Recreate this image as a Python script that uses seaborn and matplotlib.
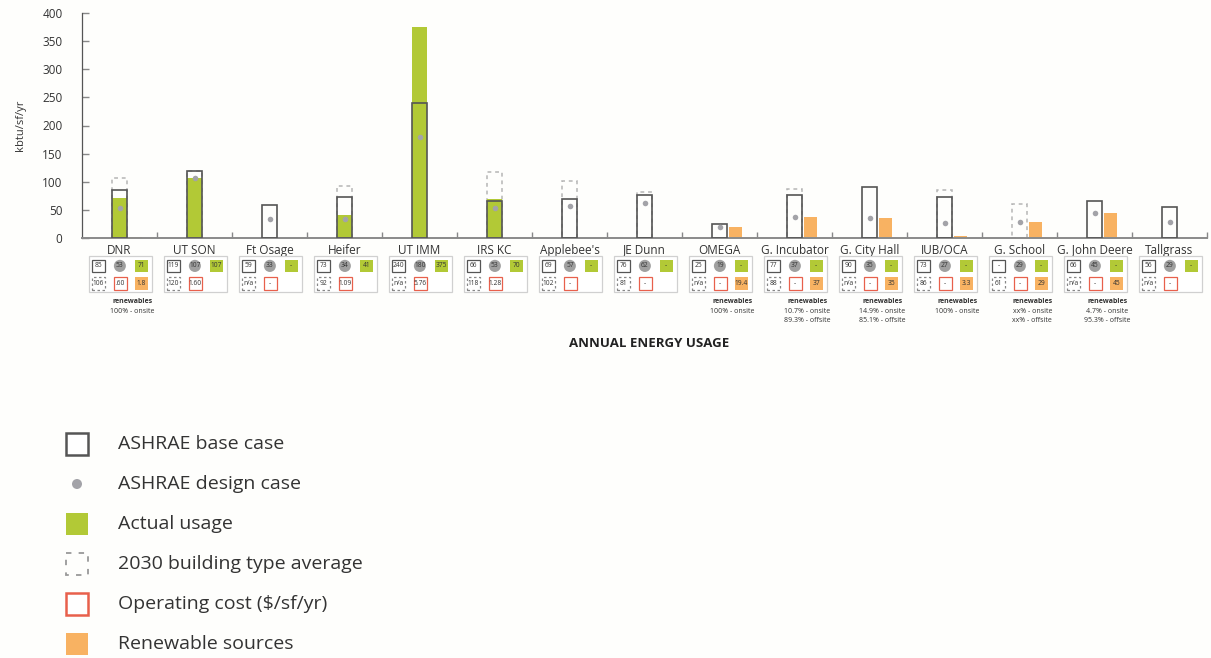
import numpy as np
import pandas as pd
import matplotlib.pyplot as plt
import matplotlib.transforms as mtransforms
from matplotlib.patches import Rectangle, Ellipse
import seaborn as sns

NA = np.nan

# --- Data ---
BUILDINGS = ['DNR', 'UT SON', 'Ft Osage', 'Heifer', 'UT IMM', 'IRS KC', "Applebee's",
             'JE Dunn', 'OMEGA', 'G. Incubator', 'G. City Hall', 'IUB/OCA', 'G. School',
             'G. John Deere', 'Tallgrass']
BASE_CASE = [85, 119, 59, 73, 240, 66, 69, 76, 25, 77, 90, 73, NA, 66, 56]
DESIGN_CASE = [53, 107, 33, 34, 180, 53, 57, 62, 19, 37, 35, 27, 29, 45, 29]
ACTUAL = [71, 107, NA, 41, 375, 70, NA, NA, NA, NA, NA, NA, NA, NA, NA]
AVG_2030 = [106, 120, NA, 92, NA, 118, 102, 81, NA, 88, NA, 86, 61, NA, NA]
OP_COST = [0.60, 1.60, NA, 1.09, 5.76, 1.28, NA, NA, NA, NA, NA, NA, NA, NA, NA]
RENEWABLE = [1.8, NA, NA, NA, NA, NA, NA, NA, 19.4, 37, 35, 3.3, 29, 45, NA]
RENEW_NOTES = [['100% - onsite'], [], [], [], [], [], [], [],
               ['100% - onsite'],
               ['10.7% - onsite', '89.3% - offsite'],
               ['14.9% - onsite', '85.1% - offsite'],
               ['100% - onsite'],
               ['xx% - onsite', 'xx% - offsite'],
               ['4.7% - onsite', '95.3% - offsite'],
               []]
Y_TICKS = [0, 50, 100, 150, 200, 250, 300, 350, 400]

LEGEND_LABELS = ['ASHRAE base case', 'ASHRAE design case', 'Actual usage',
                 '2030 building type average', 'Operating cost ($/sf/yr)', 'Renewable sources']

# --- Style ---
GREEN = '#b2c936'
ORANGE = '#f8b262'
RED = '#e8604c'
DARK = '#555555'
DOT = '#a3a3a8'
DASH = '#b5b5b5'
TEXT = '#333333'

sns.set_theme(style='white')
plt.rcParams['font.family'] = ['Open Sans', 'DejaVu Sans']

df = pd.DataFrame({'building': BUILDINGS, 'base': BASE_CASE, 'design': DESIGN_CASE,
                   'actual': ACTUAL, 'avg2030': AVG_2030})

fig = plt.figure(figsize=(12.11, 6.58), dpi=100)
fig.patch.set_facecolor('#fefefc')
ax = fig.add_axes([82 / 1211, 420 / 658, 1125 / 1211, 225 / 658])
ax.set_facecolor('none')

BAR_W = 0.19

# 2030 average (dashed), actual usage (green), base case outline, design dots
sns.barplot(data=df, x='building', y='avg2030', order=BUILDINGS, width=BAR_W, fill=False,
            color=DASH, linewidth=1.1, linestyle=(0, (2.5, 2.5)), errorbar=None, ax=ax, zorder=1)
sns.barplot(data=df, x='building', y='actual', order=BUILDINGS, width=BAR_W, color=GREEN,
            saturation=1, linewidth=0, errorbar=None, ax=ax, zorder=2)
sns.barplot(data=df, x='building', y='base', order=BUILDINGS, width=BAR_W, fill=False,
            color=DARK, linewidth=1.2, errorbar=None, ax=ax, zorder=3)
sns.stripplot(data=df, x='building', y='design', order=BUILDINGS, jitter=False, color=DOT,
              size=4, linewidth=0, ax=ax, zorder=4)

pos = np.arange(len(BUILDINGS))
ren = np.array(RENEWABLE, dtype=float)
has_ren = ~np.isnan(ren)
ax.bar(pos[has_ren] + 0.215, ren[has_ren], width=0.18, color=ORANGE, linewidth=0, zorder=2)

ax.set_xlim(-0.5, len(BUILDINGS) - 0.5)
ax.set_ylim(0, 400)
ax.set_yticks(Y_TICKS)
ax.set_xlabel('')
ax.set_ylabel('kbtu/sf/yr', fontsize=8, color=TEXT, labelpad=12)
ax.tick_params(axis='y', left=True, direction='in', length=5, width=1, color='#888888',
               pad=14, labelsize=8.5, labelcolor=TEXT)
ax.tick_params(axis='x', which='major', length=0, pad=4, labelsize=8.5, labelcolor=TEXT)
ax.set_xticks(pos + 0.5, minor=True)
ax.tick_params(axis='x', which='minor', bottom=True, direction='in', length=4, width=1,
               color='#888888')
sns.despine(ax=ax)
ax.spines['left'].set_color('#555555')
ax.spines['left'].set_linewidth(0.9)
ax.spines['bottom'].set_color('#8a8a8a')
ax.spines['bottom'].set_linewidth(1.4)

# --- Data table below each building ---
trans = mtransforms.blended_transform_factory(ax.transData, ax.transAxes)
CW, CH = 0.17, 0.054
ROW1, ROW2 = -0.124, -0.202
CELL_FS = 4.8


def fmt_int(v, missing='-'):
    return missing if np.isnan(v) else f'{v:.0f}'


def cell_box(x, y, text, edge=None, face='white', ls='-', lw=0.9):
    r = Rectangle((x - CW / 2, y - CH / 2), CW, CH, transform=trans, clip_on=False,
                  facecolor=face, edgecolor=edge if edge else 'none', linestyle=ls, linewidth=lw)
    ax.add_patch(r)
    ax.text(x, y, text, transform=trans, ha='center', va='center', fontsize=CELL_FS,
            color=TEXT, clip_on=False)


for i, b in enumerate(BUILDINGS):
    ax.add_patch(Rectangle((i - 0.41, -0.24), 0.84, 0.16, transform=trans, clip_on=False,
                           facecolor='white', edgecolor='#d0d0d0', linewidth=0.9))
    cell_box(i - 0.28, ROW1, fmt_int(BASE_CASE[i]), edge=DARK)
    ax.add_patch(Ellipse((i + 0.005, ROW1), 0.16, CH, transform=trans, clip_on=False,
                         facecolor='#a0a0a0', edgecolor='none'))
    ax.text(i + 0.005, ROW1, fmt_int(DESIGN_CASE[i]), transform=trans, ha='center',
            va='center', fontsize=CELL_FS, color=TEXT, clip_on=False)
    cell_box(i + 0.29, ROW1, fmt_int(ACTUAL[i]), face=GREEN)

    cell_box(i - 0.28, ROW2, fmt_int(AVG_2030[i], 'n/a'), edge='#888888', ls=(0, (2, 2)))
    cost = OP_COST[i]
    cost_txt = '-' if np.isnan(cost) else f'{cost:.2f}'.lstrip('0')
    cell_box(i + 0.01, ROW2, cost_txt, edge=RED)
    if has_ren[i]:
        cell_box(i + 0.29, ROW2, f'{ren[i]:g}', face=ORANGE)

    notes = RENEW_NOTES[i]
    if notes:
        ax.text(i + 0.17, -0.284, 'renewables', transform=trans, ha='center', va='center',
                fontsize=5, fontweight='bold', color=TEXT, clip_on=False)
        for k, line in enumerate(notes):
            ax.text(i + 0.17, -0.325 - 0.042 * k, line, transform=trans, ha='center',
                    va='center', fontsize=5, color=TEXT, clip_on=False)

ax.text(0.504, -0.467, 'ANNUAL ENERGY USAGE', transform=ax.transAxes, ha='center',
        va='center', fontsize=9.5, fontweight='bold', color='#222222', clip_on=False)

# --- Legend (drawn in figure pixel space) ---
lax = fig.add_axes([0, 0, 1, 1], zorder=-1)
lax.set_xlim(0, 1211)
lax.set_ylim(658, 0)
lax.axis('off')

rows = [444, 484, 524, 564, 604, 644]
S = 22
lax.add_patch(Rectangle((66, rows[0] - S / 2), S, S, facecolor='white', edgecolor=DARK, linewidth=1.8))
lax.add_patch(Ellipse((77, rows[1]), 10, 10, facecolor=DOT, edgecolor='none'))
lax.add_patch(Rectangle((66, rows[2] - S / 2), S, S, facecolor=GREEN, edgecolor='none'))
lax.add_patch(Rectangle((66, rows[3] - S / 2), S, S, facecolor='none', edgecolor='#999999',
                        linewidth=1.3, linestyle=(0, (3, 4))))
lax.add_patch(Rectangle((66, rows[4] - S / 2), S, S, facecolor='white', edgecolor=RED, linewidth=1.8))
lax.add_patch(Rectangle((66, rows[5] - S / 2), S, S, facecolor=ORANGE, edgecolor='none'))
for y, lab in zip(rows, LEGEND_LABELS):
    lax.text(118, y, lab, ha='left', va='center', fontsize=14, color=TEXT)

fig.savefig('out.png', dpi=100, facecolor=fig.get_facecolor())
